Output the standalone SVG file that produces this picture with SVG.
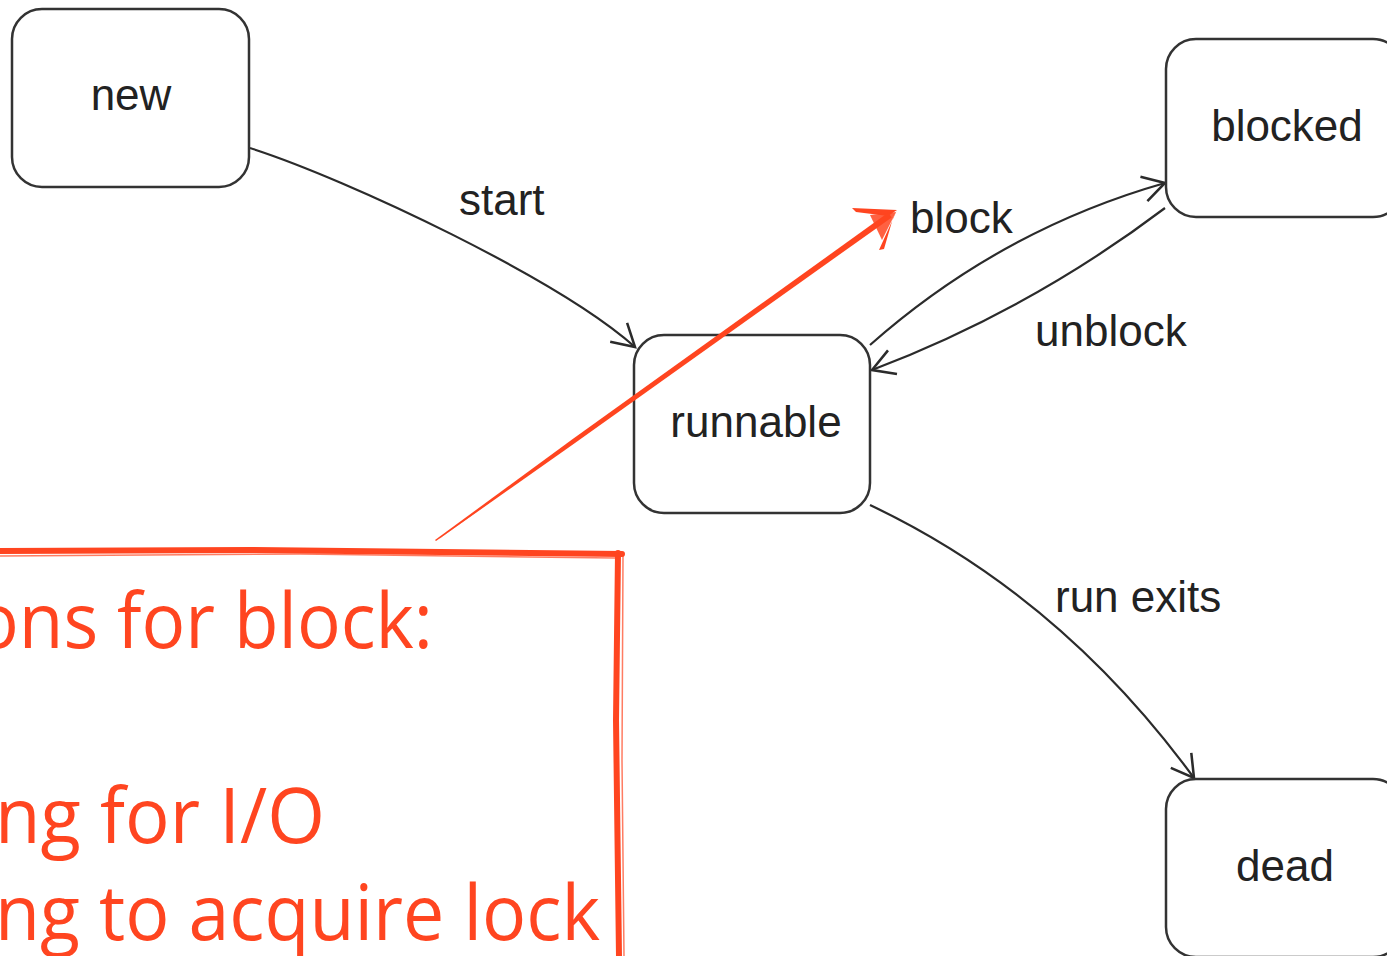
<svg xmlns="http://www.w3.org/2000/svg" width="1387" height="956" viewBox="0 0 1387 956">
  <style>
    .state { fill: #ffffff; stroke: #333333; stroke-width: 2.5; }
    .state-label { font-family: "Liberation Sans", Arial, sans-serif; font-size: 44px; fill: #222222; text-anchor: middle; }
    .edge { fill: none; stroke: #2b2b2b; stroke-width: 2.2; marker-end: url(#open-arrow); }
    .edge-label { font-family: "Liberation Sans", Arial, sans-serif; font-size: 44px; fill: #222222; }
    .note-ink { fill: none; stroke: #ff4520; stroke-linecap: round; stroke-linejoin: round; }
    .note-text { font-family: "Open Sans", "Noto Sans", sans-serif; font-size: 76px; fill: #ff4520; }
  </style>
  <defs>
    <marker id="open-arrow" markerUnits="userSpaceOnUse" markerWidth="30" markerHeight="30" viewBox="-22 -13 24 26" refX="0" refY="0" orient="auto">
      <path d="M-19,-11 L0,0 L-19,11" fill="none" stroke="#2b2b2b" stroke-width="2.2"/>
    </marker>
  </defs>

  <rect width="1387" height="956" fill="#ffffff"/>

  <!-- transitions -->
  <g id="connectors">
    <path class="edge" d="M250,148 C350,180 560,280 635,347"/>
    <path class="edge" d="M870,345 Q1000,230 1165,183"/>
    <path class="edge" d="M1165,208 Q1030,310 872,370"/>
    <path class="edge" d="M870,505 Q1060,595 1194,778"/>
    <text class="edge-label" x="459" y="215">start</text>
    <text class="edge-label" x="910" y="233">block</text>
    <text class="edge-label" x="1035" y="346">unblock</text>
    <text class="edge-label" x="1055" y="612">run exits</text>
  </g>

  <!-- states -->
  <g id="node-new">
    <rect class="state" x="12" y="9" width="237" height="178" rx="30"/>
    <text class="state-label" x="131" y="110">new</text>
  </g>
  <g id="node-runnable">
    <rect class="state" x="634" y="335" width="236" height="178" rx="30"/>
    <text class="state-label" x="756" y="437">runnable</text>
  </g>
  <g id="node-blocked">
    <rect class="state" x="1166" y="39" width="237" height="178" rx="30"/>
    <text class="state-label" x="1287" y="141">blocked</text>
  </g>
  <g id="node-dead">
    <rect class="state" x="1166" y="779" width="237" height="178" rx="30"/>
    <text class="state-label" x="1285" y="881">dead</text>
  </g>

  <!-- hand-drawn annotation -->
  <g id="annotation">
    <!-- tapered pointer stroke -->
    <polygon points="435,540 571.7,439.8 888.3,212.6 891.7,217.4 574.3,443.4 436,541" fill="#ff4520"/>
    <path class="note-ink" d="M440,538 L890,213" stroke-width="1" opacity="0.45"/>
    <!-- pointer head -->
    <polygon points="897,210 852,208 856,212 888,216" fill="#ff4520"/>
    <polygon points="897,210 879,250 884,249 893,218" fill="#ff4520"/>
    <polygon points="896,212 870,215 882,240" fill="#ff4520" opacity="0.85"/>
    <!-- frame -->
    <path class="note-ink" d="M0,551 L250,550 L622,554" stroke-width="6"/>
    <path class="note-ink" d="M0,556 L300,554 L615,558" stroke-width="1.5" opacity="0.7"/>
    <path class="note-ink" d="M618,553 L616,720 L619,956" stroke-width="6"/>
    <path class="note-ink" d="M623,556 L622,760 L624,956" stroke-width="1.5" opacity="0.7"/>
    <text class="note-text" x="-25" y="648" textLength="458" lengthAdjust="spacingAndGlyphs">ons for block:</text>
    <text class="note-text" x="-5" y="843" textLength="330" lengthAdjust="spacingAndGlyphs">ng for I/O</text>
    <text class="note-text" x="-5" y="940" textLength="605" lengthAdjust="spacingAndGlyphs">ng to acquire lock</text>
  </g>
</svg>
